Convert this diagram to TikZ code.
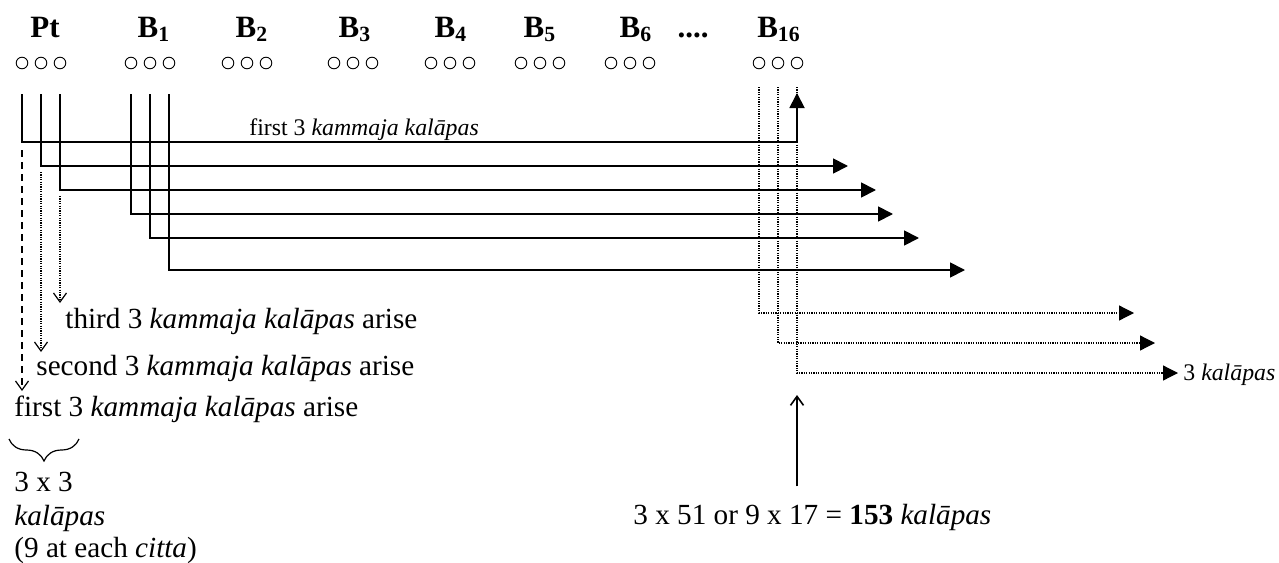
\documentclass[tikz,border=0pt]{standalone}
\usepackage{fontspec}
\setmainfont{Liberation Serif}
\usetikzlibrary{arrows.meta,decorations.pathreplacing}

\begin{document}
\begin{tikzpicture}[x=0.5pt,y=-0.5pt,
    cell/.style={circle,draw,line width=0.45pt,minimum size=5.8pt,inner sep=0pt},
    hdr/.style={font=\fontsize{15.5}{18}\selectfont\bfseries,anchor=base,inner sep=0pt},
    txt/.style={font=\fontsize{14.6}{17}\selectfont,anchor=base west,inner sep=0pt},
    smalltxt/.style={font=\fontsize{11.9}{14}\selectfont,anchor=base west,inner sep=0pt},
    flow/.style={line width=0.9pt,-{Triangle[length=7.5pt,width=7.5pt]}},
    dotflow/.style={line width=0.6pt,dash pattern=on 0.6pt off 0.6pt,-{Triangle[length=7.5pt,width=7.5pt]}},
    fall/.style={line width=0.6pt,-{Straight Barb[length=4.5pt,width=6.5pt]}},
  ]
  \useasboundingbox (0,0) rectangle (1279,562);

  % headers
  \node[hdr] (pt) at (45,37) {Pt};
  \foreach \name/\sub/\x in {b1/1/154, b2/2/252, b3/3/355, b4/4/451, b5/5/540, b6/6/636, b16/16/779}
    \node[hdr] (\name) at (\x,37) {B\textsubscript{\sub}};
  \node[hdr] (dots) at (693,37) {....};

  % the three citta moments under each header
  \foreach \grp/\cx in {pt/41, b1/150, b2/247, b3/353, b4/450, b5/540, b6/630, b16/778}
    \foreach \i in {1,2,3}
      \node[cell] (\grp c\i) at (\cx+19*\i-38,63) {};

  % ends of the connectors
  \coordinate (top) at (0,94);
  \coordinate (dtop) at (0,87);
  \coordinate (k1) at (797,142);
  \coordinate (up1) at (797,93);
  \coordinate (t2) at (848,166);
  \coordinate (t3) at (876,190);
  \coordinate (t4) at (893,214);
  \coordinate (t5) at (919,238);
  \coordinate (t6) at (965,270);
  \coordinate (d1) at (1134,313);
  \coordinate (d2) at (1155,343);
  \coordinate (d3) at (1178,373);
  \coordinate (dn1) at (22,391);
  \coordinate (dn2) at (41,352);
  \coordinate (dn3) at (60,303);
  \coordinate (ptr) at (797,395);

  % solid lines
  \draw[flow] (ptc1 |- top) |- (k1) -- (up1);
  \draw[flow] (ptc2 |- top) |- (t2);
  \draw[flow] (ptc3 |- top) |- (t3);
  \draw[flow] (b1c1 |- top) |- (t4);
  \draw[flow] (b1c2 |- top) |- (t5);
  \draw[flow] (b1c3 |- top) |- (t6);

  % dotted lines from B16
  \draw[dotflow] (b16c1 |- dtop) |- (d1);
  \draw[dotflow] (b16c2 |- dtop) |- (d2);
  \draw[dotflow] (b16c3 |- dtop) |- (d3);

  % arising downwards
  \draw[fall,dash pattern=on 3.5pt off 2.5pt,shorten <=4pt] (ptc1 |- k1) -- (dn1);
  \draw[fall,dash pattern=on 0.6pt off 0.6pt,shorten <=3pt] (ptc2 |- t2) -- (dn2);
  \draw[fall,dash pattern=on 0.6pt off 0.6pt,shorten <=3pt] (ptc3 |- t3) -- (dn3);

  % labels
  \node[smalltxt] (firstline) at (249,135) {first 3 \textit{kammaja kalāpas}};
  \node[smalltxt] (three) at (1183,380) {3 \textit{kalāpas}};
  \node[txt] (third) at (65,328) {third 3 \textit{kammaja kalāpas} arise};
  \node[txt] (second) at (36,375) {second 3 \textit{kammaja kalāpas} arise};
  \node[txt] (first) at (14,416) {first 3 \textit{kammaja kalāpas} arise};

  \draw[line width=0.6pt,decorate,decoration={brace,mirror,amplitude=11pt}] (9,439) -- (79,439);
  \node[txt] (nine) at (14,491) {3 x 3};
  \node[txt] (kal) at (14,525) {\textit{kalāpas}};
  \node[txt] (each) at (14,557) {(9 at each \textit{citta})};

  \node[txt] (total) at (633,524) {3 x 51 or 9 x 17 = \textbf{153} \textit{kalāpas}};
  \draw[fall,line width=0.8pt,shorten <=8.5pt] (total.north -| ptr) -- (ptr);
\end{tikzpicture}
\end{document}
